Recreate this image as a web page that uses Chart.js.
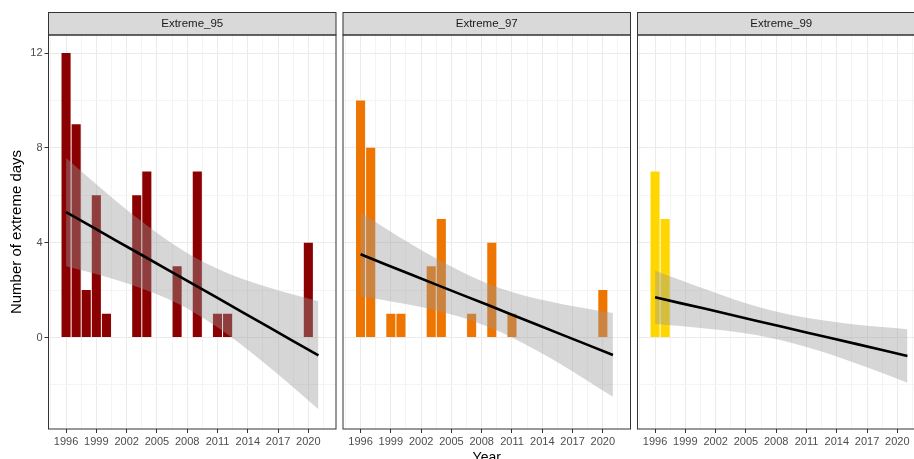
<!DOCTYPE html>
<html>
<head>
<meta charset="utf-8">
<script src="https://cdn.jsdelivr.net/npm/chart.js@4.4.0/dist/chart.umd.min.js"></script>
<style>
  html, body { margin: 0; padding: 0; background: #fff; }
  #wrap { position: relative; width: 914px; height: 459px; overflow: hidden; }
  #wrap canvas { position: absolute; left: 0; top: 0; }
</style>
</head>
<body>
<div id="wrap">
  <canvas id="p95" width="940" height="470"></canvas>
  <canvas id="p97" width="940" height="470"></canvas>
  <canvas id="p99" width="940" height="470"></canvas>
</div>
<script>
// bars per threshold
const years95 = [1996, 1997, 1998, 1999, 2000, 2003, 2004, 2007, 2009, 2011, 2012, 2020];
const days95 = [12, 9, 2, 6, 1, 6, 7, 3, 7, 1, 1, 4];
const years97 = [1996, 1997, 1999, 2000, 2003, 2004, 2007, 2009, 2011, 2020];
const days97 = [10, 8, 1, 1, 3, 5, 1, 4, 1, 2];
const years99 = [1996, 1997];
const days99 = [7, 5];

// linear trend + confidence band
const fitYears = [1996, 1998.5, 2001, 2003.5, 2006, 2008.5, 2011, 2013.5, 2016, 2018.5, 2021];
const fit95 = [5.29, 4.69, 4.08, 3.48, 2.87, 2.27, 1.67, 1.06, 0.46, -0.15, -0.75];
const upper95 = [7.57, 6.64, 5.74, 4.89, 4.11, 3.44, 2.90, 2.47, 2.12, 1.81, 1.53];
const lower95 = [3.01, 2.73, 2.42, 2.07, 1.64, 1.10, 0.43, -0.35, -1.20, -2.10, -3.03];
const fit97 = [3.51, 3.08, 2.66, 2.23, 1.81, 1.39, 0.96, 0.54, 0.11, -0.31, -0.74];
const upper97 = [5.27, 4.60, 3.94, 3.33, 2.77, 2.29, 1.92, 1.63, 1.40, 1.21, 1.03];
const lower97 = [1.74, 1.56, 1.37, 1.14, 0.85, 0.47, 0.00, -0.56, -1.17, -1.83, -2.50];
const fit99 = [1.70, 1.45, 1.21, 0.96, 0.71, 0.46, 0.21, -0.03, -0.28, -0.53, -0.78];
const upper99 = [2.83, 2.42, 2.03, 1.66, 1.32, 1.04, 0.83, 0.67, 0.54, 0.44, 0.35];
const lower99 = [0.57, 0.48, 0.38, 0.26, 0.10, -0.12, -0.40, -0.73, -1.11, -1.50, -1.91];

// axes
const xTicks = [1996, 1999, 2002, 2005, 2008, 2011, 2014, 2017, 2020];
const yTicks = [0, 4, 8, 12];

const X_MIN = 1994.26, X_MAX = 2022.74;
const Y_MIN = -3.86, Y_MAX = 12.76;
const FONT = '"Liberation Sans", Arial, Helvetica, sans-serif';
Chart.defaults.font.family = FONT;

function withMinor(major, lo, hi) {
    const step = major[1] - major[0];
    const out = [];
    const ext = [major[0] - step, ...major, major[major.length - 1] + step];
    for (let i = 0; i < ext.length; i++) {
        out.push(ext[i]);
        if (i < ext.length - 1) out.push(ext[i] + step / 2);
    }
    return out.filter(v => v >= lo && v <= hi);
}
const xGrid = withMinor(xTicks, X_MIN, X_MAX);
const yGrid = withMinor(yTicks, Y_MIN, Y_MAX);

const isMajor = (list, c) => c.tick && list.includes(c.tick.value);

// strip on top + panel border
const facetPlugin = {
    id: "facet",
    afterDraw(chart, args, opts) {
        const { ctx, chartArea: a } = chart;
        ctx.save();
        ctx.fillStyle = "#D9D9D9";
        ctx.fillRect(a.left, 12.5, a.right - a.left, a.top - 12.5);
        ctx.strokeStyle = "#333333";
        ctx.lineWidth = 1;
        ctx.strokeRect(a.left, 12.5, a.right - a.left, a.top - 12.5);
        ctx.strokeRect(a.left, a.top, a.right - a.left, a.bottom - a.top);
        ctx.fillStyle = "#1A1A1A";
        ctx.font = "11.5px " + FONT;
        ctx.textAlign = "center";
        ctx.textBaseline = "middle";
        ctx.fillText(opts.label, (a.left + a.right) / 2, (12.5 + a.top) / 2 + 0.5);
        ctx.restore();
    }
};

function makePanel(id, name, years, days, color, fit, upper, lower, left, right, first, middle) {
    const pts = (ys) => fitYears.map((x, i) => ({ x, y: ys[i] }));
    new Chart(document.getElementById(id), {
        type: "bar",
        data: {
            datasets: [
                {
                    type: "line", data: pts(fit), borderColor: "#000", borderWidth: 2.6,
                    pointRadius: 0, fill: false, order: 1
                },
                {
                    type: "line", data: pts(upper), borderWidth: 0, borderColor: "rgba(0,0,0,0)",
                    pointRadius: 0, fill: "+1", backgroundColor: "rgba(153,153,153,0.4)",
                    cubicInterpolationMode: "monotone", order: 2
                },
                {
                    type: "line", data: pts(lower), borderWidth: 0, borderColor: "rgba(0,0,0,0)",
                    pointRadius: 0, fill: false, cubicInterpolationMode: "monotone", order: 2
                },
                {
                    type: "bar", data: years.map((x, i) => ({ x, y: days[i] })),
                    backgroundColor: color, borderWidth: 0,
                    barPercentage: 1, categoryPercentage: 0.9, order: 3
                }
            ]
        },
        options: {
            responsive: false,
            animation: false,
            events: [],
            layout: { padding: { left: left, right: right, top: 35, bottom: 0 } },
            plugins: {
                legend: { display: false },
                tooltip: { enabled: false },
                facet: { label: name }
            },
            scales: {
                x: {
                    type: "linear", min: X_MIN, max: X_MAX, offset: false,
                    border: { display: false },
                    grid: {
                        offset: false,
                        color: c => isMajor(xTicks, c) ? "#EBEBEB" : "#F4F4F4",
                        lineWidth: 1,
                        tickColor: c => isMajor(xTicks, c) ? "#333333" : "rgba(0,0,0,0)",
                        tickLength: 4, tickWidth: 1
                    },
                    ticks: {
                        autoSkip: false, maxRotation: 0, minRotation: 0, padding: 2,
                        color: "#4D4D4D", font: { size: 11 },
                        callback: v => xTicks.includes(v) ? String(v) : ""
                    },
                    afterBuildTicks: s => { s.ticks = xGrid.map(v => ({ value: v })); },
                    afterFit: s => { s.height = 41; },
                    title: {
                        display: middle, text: "Year", color: "#000",
                        font: { size: 14 }, padding: { top: 0, bottom: 3 }
                    }
                },
                y: {
                    type: "linear", min: Y_MIN, max: Y_MAX,
                    border: { display: false },
                    grid: {
                        color: c => isMajor(yTicks, c) ? "#EBEBEB" : "#F4F4F4",
                        lineWidth: 1,
                        drawTicks: first,
                        tickColor: c => isMajor(yTicks, c) ? "#333333" : "rgba(0,0,0,0)",
                        tickLength: 4, tickWidth: 1
                    },
                    ticks: {
                        display: first, autoSkip: false, padding: 2,
                        color: "#4D4D4D", font: { size: 11 },
                        callback: v => yTicks.includes(v) ? String(v) : ""
                    },
                    afterBuildTicks: s => { s.ticks = yGrid.map(v => ({ value: v })); },
                    afterFit: s => { s.width = first ? 48.5 : 0; },
                    title: {
                        display: first, text: "Number of extreme days", color: "#000",
                        font: { size: 15 }, padding: { top: 7.5, bottom: 0 }
                    }
                }
            }
        },
        plugins: [facetPlugin]
    });
}

makePanel("p95", "Extreme_95", years95, days95, "#8B0000", fit95, upper95, lower95, 0, 604, true, false);
makePanel("p97", "Extreme_97", years97, days97, "#EE7600", fit97, upper97, lower97, 343, 309.5, false, true);
makePanel("p99", "Extreme_99", years99, days99, "#FFD700", fit99, upper99, lower99, 637.5, 15, false, false);
</script>
</body>
</html>
